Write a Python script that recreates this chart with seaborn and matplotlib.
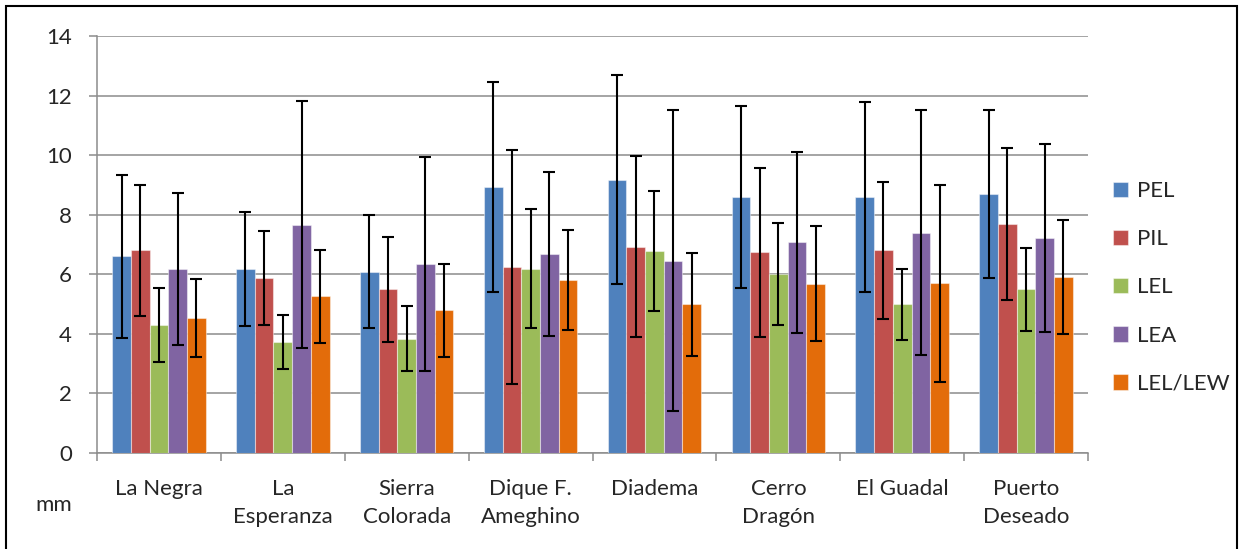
import matplotlib
matplotlib.use("Agg")
import matplotlib.pyplot as plt
from matplotlib.patches import Rectangle
import numpy as np
import pandas as pd
import seaborn as sns

# Localities and the measured traits (means and standard deviations, mm)
localities = ["La Negra", "La\nEsperanza", "Sierra\nColorada", "Dique F.\nAmeghino",
              "Diadema", "Cerro\nDragón", "El Guadal", "Puerto\nDeseado"]
traits = ["PEL", "PIL", "LEL", "LEA", "LEL/LEW"]

pel_mean = [6.60, 6.18, 6.08, 8.94, 9.18, 8.59, 8.59, 8.69]
pil_mean = [6.80, 5.88, 5.49, 6.24, 6.93, 6.74, 6.80, 7.69]
lel_mean = [4.30, 3.73, 3.84, 6.18, 6.79, 6.01, 4.99, 5.49]
lea_mean = [6.17, 7.66, 6.34, 6.69, 6.46, 7.07, 7.40, 7.22]
lelw_mean = [4.53, 5.26, 4.79, 5.82, 4.99, 5.69, 5.70, 5.92]

pel_sd = [2.73, 1.90, 1.90, 3.52, 3.50, 3.06, 3.18, 2.81]
pil_sd = [2.20, 1.58, 1.77, 3.94, 3.05, 2.83, 2.29, 2.54]
lel_sd = [1.25, 0.90, 1.10, 2.00, 2.02, 1.72, 1.20, 1.40]
lea_sd = [2.55, 4.15, 3.60, 2.75, 5.05, 3.03, 4.12, 3.16]
lelw_sd = [1.31, 1.56, 1.56, 1.68, 1.72, 1.94, 3.31, 1.91]

colors = ["#4F81BD", "#C0504D", "#9BBB59", "#8064A2", "#E36C0A"]

means = [pel_mean, pil_mean, lel_mean, lea_mean, lelw_mean]
sds = [pel_sd, pil_sd, lel_sd, lea_sd, lelw_sd]

df = pd.DataFrame({
    "locality": np.repeat([localities], len(traits), axis=0).ravel(),
    "trait": np.repeat(traits, len(localities)),
    "value": np.concatenate(means),
})

sns.set_style("white")
plt.rcParams["font.family"] = ["Lato", "DejaVu Sans"]
FS = 16

W, H = 1239, 549
fig = plt.figure(figsize=(W / 100, H / 100), dpi=100)
ax = fig.add_axes([97 / W, 1 - 453 / H, (1088 - 97) / W, (453 - 36) / H])

sns.barplot(data=df, x="locality", y="value", hue="trait", order=localities,
            hue_order=traits, palette=colors, width=0.755, errorbar=None,
            saturation=1, ax=ax, edgecolor=(1, 1, 1, 0.45), linewidth=0.8,
            zorder=3)

# Standard deviation whiskers centred on each bar
for cont, sd in zip(ax.containers, sds):
    xs = [p.get_x() + p.get_width() / 2 for p in cont]
    ys = [p.get_height() for p in cont]
    ax.errorbar(xs, ys, yerr=sd, fmt="none", ecolor="black", elinewidth=1.5,
                capsize=4.3, capthick=1.5, zorder=4)

grid_c = "#8C8C8C"
ax.set_ylim(0, 14)
ax.set_yticks(np.arange(0, 15, 2))
ax.set_xlim(-0.5, len(localities) - 0.5)
ax.yaxis.grid(True, color=grid_c, lw=1.1, zorder=0)
ax.set_axisbelow(True)

for side in ["top", "right"]:
    ax.spines[side].set_visible(False)
for side in ["left", "bottom"]:
    ax.spines[side].set_color(grid_c)
    ax.spines[side].set_linewidth(1.1)

ax.tick_params(axis="y", direction="out", length=6, width=1.1, color=grid_c,
               pad=12, labelsize=FS, left=True)
ax.set_xticks(range(len(localities)))
ax.set_xticklabels(localities, linespacing=1.5, va="top")
ax.set_xticks(np.arange(-0.5, len(localities), 1.0), minor=True)
ax.tick_params(axis="x", which="major", length=0, pad=18.5, labelsize=FS)
ax.tick_params(axis="x", which="minor", direction="out", length=6, width=1.1,
               color=grid_c, bottom=True)
ax.set_xlabel("")
ax.set_ylabel("")

fig.text(54 / W, 1 - 505 / H, "mm", fontsize=FS, ha="center", va="center")

leg = ax.legend(loc="upper left", bbox_to_anchor=(1113 / W, 1 - 181 / H),
                bbox_transform=fig.transFigure, frameon=False, fontsize=FS,
                handlelength=0.68, handleheight=0.68, handletextpad=0.4,
                labelspacing=1.27, borderpad=0, borderaxespad=0)

# Chart frame
fig.patches.append(Rectangle((6 / W, -0.01), (1237 - 6) / W, 1 - 6 / H + 0.01,
                             transform=fig.transFigure, fill=False,
                             edgecolor="black", lw=1.5, zorder=10))

fig.savefig("out.png", dpi=100)
